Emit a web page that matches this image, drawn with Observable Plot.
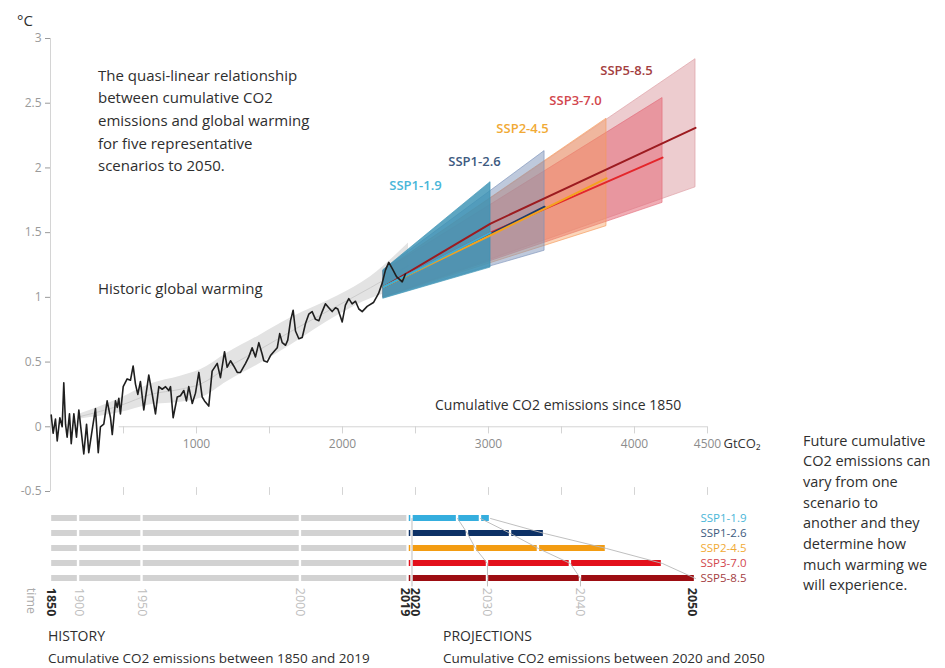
<!DOCTYPE html>
<html><head><meta charset="utf-8">
<script src="https://cdn.jsdelivr.net/npm/d3@7"></script>
<script src="https://cdn.jsdelivr.net/npm/@observablehq/plot@0.6"></script>
<style>
body{margin:0;background:#fff;font-family:"Open Sans",sans-serif;}
#wrap{position:relative;width:945px;height:668px;overflow:hidden;background:#fff;}
.abs{position:absolute;color:#2e2e2e;white-space:nowrap;}
#topPlot{position:absolute;left:0;top:0;}
#botPlot{position:absolute;left:0;top:500px;}
</style></head><body>
<div id="wrap">
  <div id="topPlot"></div>
  <div id="botPlot"></div>
  <div class="abs" style="left:17px;top:10px;font-size:15px;line-height:20px;">°C</div>
  <div class="abs" style="left:98px;top:63.5px;font-size:15px;line-height:22.7px;">The quasi-linear relationship<br>between cumulative CO2<br>emissions and global warming<br>for five representative<br>scenarios to 2050.</div>
  <div class="abs" style="left:98px;top:277px;font-size:15px;line-height:22px;">Historic global warming</div>
  <div class="abs" style="left:435px;top:395px;font-size:14px;line-height:20px;">Cumulative CO2 emissions since 1850</div>
  <div class="abs" style="left:803px;top:430.5px;font-size:14.5px;line-height:20.7px;">Future cumulative<br>CO2 emissions can<br>vary from one<br>scenario to<br>another and they<br>determine how<br>much warming we<br>will experience.</div>
  <div class="abs" style="left:48px;top:627px;font-size:14px;line-height:18px;">HISTORY</div>
  <div class="abs" style="left:48px;top:649px;font-size:13.5px;line-height:18px;">Cumulative CO2 emissions between 1850 and 2019</div>
  <div class="abs" style="left:443px;top:627px;font-size:14px;line-height:18px;">PROJECTIONS</div>
  <div class="abs" style="left:443px;top:649px;font-size:13.5px;line-height:18px;">Cumulative CO2 emissions between 2020 and 2050</div>
</div>
<script>
// ---------- data ----------
const scenarios = ["SSP1-1.9","SSP1-2.6","SSP2-4.5","SSP3-7.0","SSP5-8.5"];
const barColors = ["#35aede","#0d3166","#f39c12","#e3101b","#9d0d12"];
const fanColors = ["#3a92b4","#7d93ba","#f59a5a","#e36a78","#dc9aa0"];
const fanOpacity = [0.82,0.5,0.42,0.55,0.5];
const lineColors = ["#3aaed8","#1d3c6b","#f4a21e","#e4262b","#9c1b20"];
const labelColors = ["#49b6d8","#3d5a80","#f1aa35","#d2474d","#a4403f"];

// historic warming vs cumulative emissions (GtCO2, °C)
const histEmissions = [5,18,34,46,64,80,91,103,114,130,142,160,178,194,210,228,247,262,286,308,327,342,365,388,411,423,445,457,468,479,498,525,548,566,582,598,616,639,673,697,719,742,765,788,810,822,840,868,890,913,931,947,971,993,1016,1039,1055,1084,1107,1142,1164,1192,1210,1233,1255,1279,1301,1336,1358,1381,1404,1427,1450,1461,1484,1507,1529,1553,1570,1587,1610,1625,1644,1662,1678,1701,1724,1747,1769,1792,1815,1838,1861,1883,1906,1929,1952,1968,1986,1998,2020,2043,2066,2089,2112,2135,2169,2212,2247,2272,2294,2317,2342,2370,2409,2431];
const histWarming = [0.09,-0.05,0.06,-0.11,0.07,0.00,0.34,0.02,-0.08,0.10,-0.13,0.10,-0.08,0.13,-0.03,-0.21,0.02,-0.20,-0.02,0.14,-0.20,0.00,0.02,0.20,0.07,-0.06,0.20,0.15,0.22,0.10,0.31,0.37,0.36,0.47,0.33,0.25,0.35,0.13,0.40,0.25,0.10,0.31,0.29,0.31,0.28,0.31,0.07,0.23,0.24,0.28,0.20,0.31,0.18,0.26,0.42,0.23,0.20,0.16,0.43,0.49,0.38,0.58,0.46,0.51,0.47,0.42,0.42,0.49,0.54,0.61,0.54,0.65,0.56,0.51,0.50,0.55,0.58,0.61,0.72,0.65,0.63,0.67,0.82,0.90,0.74,0.68,0.69,0.80,0.87,0.89,0.83,0.82,0.89,0.95,0.92,0.89,0.92,0.91,0.85,0.81,0.94,0.99,0.95,0.97,0.91,0.89,0.93,0.96,1.03,1.11,1.21,1.27,1.22,1.16,1.12,1.18];

// historic uncertainty band
const bandEmissions = [205,479,685,890,1027,1212,1438,1644,1966,2192,2452];
const bandHigh = [0.10,0.22,0.33,0.39,0.44,0.57,0.71,0.84,1.01,1.16,1.42];
const bandLow  = [0.06,0.11,0.17,0.19,0.22,0.35,0.49,0.63,0.86,0.99,1.07];

// projections
const fanStartEmission = 2281;
const fanStartLow  = [0.99,1.00,1.00,1.00,1.00];
const fanStartHigh = [1.21,1.21,1.20,1.20,1.20];
const emissions2050 = [3014,3384,3808,4192,4418];
const fanEndLow  = [1.23,1.36,1.55,1.73,1.85];
const fanEndHigh = [1.89,2.13,2.38,2.54,2.84];
const lineStartWarming = 1.08;
const lineMidEmission = 3014;
const lineMidWarming = [1.50,1.49,1.48,1.50,1.57];
const lineEndWarming = [1.50,1.70,1.92,2.08,2.31];

// timeline bars
const histYears = [1850,1900,1950,2000,2019];
const histYearEmissions = [0,192,627,1712,2449];
const emissions2020 = 2476;
const emissions2030 = [2788,2856,2911,2993,2993];
const emissions2040 = [2945,3151,3342,3561,3630];

const yTicks = [-0.5,0,0.5,1,1.5,2,2.5,3];
const xTicks = [500,1000,1500,2000,2500,3000,3500,4000,4500];
const xTickLabels = [1000,2000,3000,4000,4500];
const labelAnchorEmission = [2500,2904,3233,3596,3945];
const labelAnchorWarming = [1.86,2.05,2.30,2.52,2.75];

// ---------- build rows ----------
const histRows = histEmissions.map((e,i)=>({e, t: histWarming[i]}));
const bandRows = bandEmissions.map((e,i)=>({e, lo: bandLow[i], hi: bandHigh[i]}));
const order = [4,3,2,1,0];

const fanMarks = order.map(i => Plot.areaY(
  [{e: fanStartEmission, lo: fanStartLow[i], hi: fanStartHigh[i]},
   {e: emissions2050[i], lo: fanEndLow[i], hi: fanEndHigh[i]}],
  {x:"e", y1:"lo", y2:"hi", fill: fanColors[i], fillOpacity: fanOpacity[i],
   stroke: fanColors[i], strokeOpacity: 0.8, strokeWidth: 0.8}));

const lineMarks = [4,3,1,2,0].map(i => Plot.line(
  [{e: fanStartEmission, t: lineStartWarming},
   {e: Math.min(lineMidEmission, emissions2050[i]), t: lineMidWarming[i]},
   {e: emissions2050[i], t: lineEndWarming[i]}],
  {x:"e", y:"t", stroke: lineColors[i], strokeWidth: 2}));

const topChart = Plot.plot({
  width: 945, height: 500,
  marginLeft: 50, marginRight: 238, marginTop: 38, marginBottom: 9,
  x: {domain: [0,4500], axis: null},
  y: {domain: [-0.5,3], ticks: yTicks, tickSize: 5, tickPadding: 4, tickFormat: d => String(d), label: null},
  style: {fontFamily: "Open Sans", fontSize: "12px", color: "#9a9a9a", background: "transparent"},
  marks: [
    Plot.ruleX([0], {y1: -0.5, y2: 3, stroke: "#d4d4d4"}),
    Plot.ruleY([0], {x1: 470, x2: 4500, stroke: "#d4d4d4"}),
    Plot.ruleX(xTicks, {x: d=>d, y1: 0, y2: -0.055, stroke: "#d4d4d4"}),
    Plot.ruleX(xTicks, {x: d=>d, y1: -0.47, y2: -0.53, stroke: "#d4d4d4"}),
    Plot.text(xTickLabels, {x: d=>d, y: 0, dy: 17, text: d=>String(d), fill: "#8c8c8c", fontSize: 12}),
    Plot.text(["GtCO₂"], {x: 4500, y: 0, dy: 17, dx: 16, textAnchor: "start", fill: "#333", fontSize: 13}),
    Plot.areaY(bandRows, {x:"e", y1:"lo", y2:"hi", fill:"#e3e3e3", curve:"monotone-x"}),
    Plot.lineY(bandRows, {x:"e", y: d=>(d.lo+d.hi)/2, stroke:"#cccccc", strokeWidth: 1, curve:"monotone-x"}),
    ...fanMarks,
    ...lineMarks,
    Plot.line(histRows, {x:"e", y:"t", stroke:"#1f1f1f", strokeWidth: 1.6}),
    Plot.text(scenarios, {x: (d,i)=>labelAnchorEmission[i], y: (d,i)=>labelAnchorWarming[i], text: d=>d,
      fill: (d,i)=>labelColors[i], fontWeight: 600, fontSize: 13})
  ]
});
document.getElementById("topPlot").appendChild(topChart);

// ---------- bottom timeline ----------
const grayRows = [];
const colorRows = [];
scenarios.forEach((s,i)=>{
  for (let j=0;j<histYearEmissions.length-1;j++)
    grayRows.push({i, x1: histYearEmissions[j], x2: histYearEmissions[j+1]});
  const b = [histYearEmissions[histYearEmissions.length-1], emissions2020, emissions2030[i], emissions2040[i], emissions2050[i]];
  for (let j=0;j<b.length-1;j++) colorRows.push({i, x1: b[j], x2: b[j+1], c: barColors[i]});
});
const connectors = [
  scenarios.map((s,i)=>({e: emissions2020, i})).concat([{e: emissions2020, i: 4.5}]),
  scenarios.map((s,i)=>({e: emissions2030[i], i})).concat([{e: emissions2030[4], i: 4.5}]),
  scenarios.map((s,i)=>({e: emissions2040[i], i})).concat([{e: emissions2040[4], i: 4.5}]),
  scenarios.map((s,i)=>({e: emissions2050[i], i}))
];
const yearLabels = [
  {year: 1850, e: histYearEmissions[0], bold: true, dx: 0},
  {year: 1900, e: histYearEmissions[1], bold: false, dx: 0},
  {year: 1950, e: histYearEmissions[2], bold: false, dx: 0},
  {year: 2000, e: histYearEmissions[3], bold: false, dx: 0},
  {year: 2019, e: histYearEmissions[4], bold: true, dx: -3},
  {year: 2020, e: emissions2020, bold: true, dx: 3},
  {year: 2030, e: emissions2030[4], bold: false, dx: 0},
  {year: 2040, e: emissions2040[4], bold: false, dx: 0},
  {year: 2050, e: emissions2050[4], bold: true, dx: -4}
];

const botChart = Plot.plot({
  width: 945, height: 168,
  marginLeft: 50, marginRight: 238, marginTop: 18, marginBottom: 90,
  x: {domain: [0,4500], axis: null},
  y: {domain: [0,4], range: [18,78], axis: null},
  style: {fontFamily: "Open Sans", fontSize: "12px", background: "transparent"},
  marks: [
    Plot.rect(grayRows, {x1:"x1", x2:"x2", y1: d=>d.i-0.2, y2: d=>d.i+0.2, fill:"#d2d2d2", insetLeft: 1.2, insetRight: 1.2}),
    Plot.rect(colorRows, {x1:"x1", x2:"x2", y1: d=>d.i-0.2, y2: d=>d.i+0.2, fill: d=>d.c, insetLeft: 1.2, insetRight: 1.2}),
    ...connectors.map(c => Plot.line(c, {x:"e", y:"i", stroke:"#b8b8b8", strokeWidth: 0.9})),
    ...yearLabels.map(d => Plot.text([d], {x:"e", y: 4.62, text: r=>String(r.year), rotate: 90, textAnchor: "start",
      dx: d.dx, fill: d.bold ? "#2a2a2a" : "#bdbdbd", fontWeight: d.bold ? 700 : 400, fontSize: 12.5})),
    Plot.text(["time"], {x: 0, y: 4.62, dx: -20, rotate: 90, textAnchor: "start", fill: "#aaa", fontSize: 12.5}),
    Plot.text(scenarios, {frameAnchor: "right", y: (d,i)=>i, dx: -7, textAnchor: "start", text: d=>d,
      fill: (d,i)=>labelColors[i], fontSize: 11.5})
  ]
});
document.getElementById("botPlot").appendChild(botChart);
</script>
</body></html>
